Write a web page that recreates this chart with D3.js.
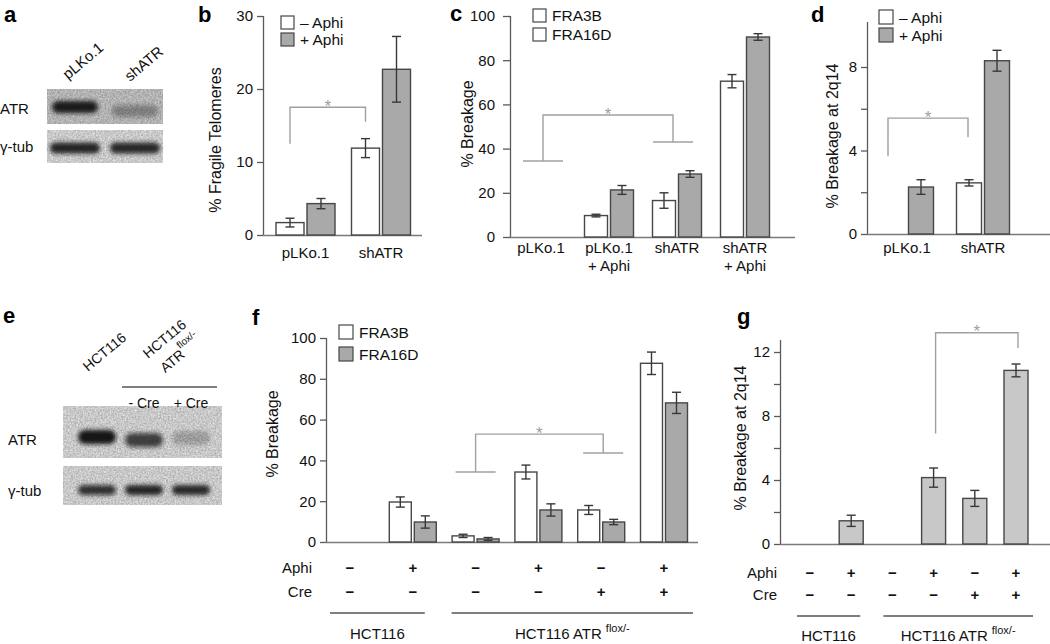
<!DOCTYPE html>
<html><head><meta charset="utf-8">
<script src="https://cdn.jsdelivr.net/npm/d3@7"></script>
<style>
html,body{margin:0;padding:0;background:#fff;}
svg{display:block;}
</style></head><body>
<svg id="fig" width="1050" height="644"></svg>
<script>
// ---------------- DATA ----------------
// a: western blot (band intensities 0..1)
const aLanes = ["pLKo.1", "shATR"];
const aRowLabels = ["ATR", "γ-tub"];
const aATR = [0.97, 0.35];
const aTub = [0.92, 0.9];

// b: % fragile telomeres
const bCategories = ["pLKo.1", "shATR"];
const bSeriesNames = ["– Aphi", "+ Aphi"];
const bMinusAphi = [1.7, 11.9];
const bMinusAphiErr = [0.6, 1.3];
const bPlusAphi = [4.3, 22.7];
const bPlusAphiErr = [0.7, 4.5];
const bTicks = [0, 10, 20, 30];
const bBracket = [12.5, 17.5, 15.5];

// c: % breakage
const cCategories = ["pLKo.1", "pLKo.1\n+ Aphi", "shATR", "shATR\n+ Aphi"];
const cSeriesNames = ["FRA3B", "FRA16D"];
const cFRA3B = [0, 9.7, 16.5, 70.5];
const cFRA3BErr = [0, 0.6, 3.5, 3.0];
const cFRA16D = [0, 21.3, 28.5, 90.5];
const cFRA16DErr = [0, 2.0, 1.5, 1.5];
const cTicks = [0, 20, 40, 60, 80, 100];
const cBracket = [34.4, 55.2, 43.0];

// d: % breakage at 2q14
const dCategories = ["pLKo.1", "shATR"];
const dSeriesNames = ["– Aphi", "+ Aphi"];
const dMinusAphi = [0, 2.45];
const dMinusAphiErr = [0, 0.15];
const dPlusAphi = [2.25, 8.3];
const dPlusAphiErr = [0.35, 0.5];
const dTicks = [0, 2, 4, 6, 8];
const dTickLabels = [0, 4, 8];
const dBracket = [3.73, 5.55, 4.64];

// e: western blot
const eLanes = ["HCT116", "- Cre", "+ Cre"];
const eRowLabels = ["ATR", "γ-tub"];
const eATR = [1.0, 0.75, 0.22];
const eTub = [0.82, 0.92, 0.9];

// f: % breakage, HCT116 lines
const fAphi = ["−", "+", "−", "+", "−", "+"];
const fCre = ["−", "−", "−", "−", "+", "+"];
const fCellLines = ["HCT116", "HCT116 ATR"];
const fCellLineSpans = [[0, 1], [2, 5]];
const fSeriesNames = ["FRA3B", "FRA16D"];
const fFRA3B = [0, 19.6, 3.0, 34.3, 15.7, 87.6];
const fFRA3BErr = [0, 2.5, 0.8, 3.4, 2.2, 5.5];
const fFRA16D = [0, 9.8, 1.5, 15.7, 9.8, 68.2];
const fFRA16DErr = [0, 3.0, 0.7, 3.0, 1.3, 5.2];
const fTicks = [0, 20, 40, 60, 80, 100];
const fBracket = [34.3, 52.9, 43.6];

// g: % breakage at 2q14, HCT116 lines
const gAphi = ["−", "+", "−", "+", "−", "+"];
const gCre = ["−", "−", "−", "−", "+", "+"];
const gCellLines = ["HCT116", "HCT116 ATR"];
const gCellLineSpans = [[0, 1], [2, 5]];
const g2q14 = [0, 1.45, 0, 4.15, 2.85, 10.85];
const g2q14Err = [0, 0.35, 0, 0.6, 0.5, 0.4];
const gTicks = [0, 2, 4, 6, 8, 10, 12];
const gTickLabels = [0, 4, 8, 12];
const gBracket = [6.9, 13.2, 12.25];

// ---------------- DRAWING ----------------
const FONT = "'Liberation Sans', Arial, Helvetica, sans-serif";
const C = {grey:"#a9a9a9", light:"#c8c8c8", white:"#ffffff", stroke:"#474747",
           axis:"#5a5a5a", base:"#7a7a7a", text:"#111111", bracket:"#a0a0a0", err:"#383838"};
const svg = d3.select("#fig").attr("font-family", FONT);
svg.append("rect").attr("width",1050).attr("height",644).attr("fill","#fff");

const defs = svg.append("defs");
const blur = defs.append("filter").attr("id","blur").attr("x","-30%").attr("y","-80%").attr("width","160%").attr("height","260%");
blur.append("feGaussianBlur").attr("stdDeviation", 2.2);
const grain = defs.append("filter").attr("id","grain").attr("x",0).attr("y",0).attr("width",1).attr("height",1);
grain.append("feTurbulence").attr("type","fractalNoise").attr("baseFrequency",0.6).attr("numOctaves",3).attr("seed",4).attr("result","n");
grain.append("feColorMatrix").attr("in","n").attr("type","matrix")
  .attr("values","0 0 0 0 0  0 0 0 0 0  0 0 0 0 0  0 0 0 0.4 -0.05").attr("result","a");
grain.append("feComposite").attr("in","a").attr("in2","SourceGraphic").attr("operator","in");

function letter(t, x, y) {
  svg.append("text").attr("x", x).attr("y", y).attr("font-size", 22).attr("font-weight", "bold")
    .attr("fill", "#000").text(t);
}

function yAxis(y, x0, top, ticks, labels, tickSize, pad) {
  const g = svg.append("g").attr("transform", `translate(${x0},0)`);
  g.call(d3.axisLeft(y).tickValues(ticks).tickSize(tickSize).tickPadding(pad)
    .tickFormat(d => labels.includes(d) ? String(d) : ""));
  g.attr("font-family", FONT).attr("font-size", 15);
  g.select(".domain").remove();
  g.append("line").attr("x1", 0.5).attr("x2", 0.5).attr("y1", y(0)).attr("y2", top)
    .attr("stroke", C.axis).attr("stroke-width", 1.3);
  g.selectAll(".tick line").attr("stroke", C.axis).attr("stroke-width", 1.3);
  g.selectAll(".tick text").attr("fill", C.text);
}

function baseline(y, x0, x1) {
  svg.append("line").attr("x1", x0).attr("x2", x1).attr("y1", y(0) + 0.5).attr("y2", y(0) + 0.5)
    .attr("stroke", C.base).attr("stroke-width", 1.3);
}

function yTitle(t, cx, cy) {
  svg.append("text").attr("transform", `translate(${cx},${cy}) rotate(-90)`)
    .attr("text-anchor", "middle").attr("dominant-baseline", "central")
    .attr("font-size", 16).attr("fill", C.text).text(t);
}

function barOffset(si, n, barW, gap) { return (si - (n - 1) / 2) * (barW + gap); }

function bars(xc, y, cats, series, barW, gap) {
  const n = series.length;
  series.forEach((s, si) => {
    const off = barOffset(si, n, barW, gap);
    const data = cats.map((c, i) => ({c, v: s.values[i], e: s.errs[i]})).filter(d => d.v > 0);
    const g = svg.append("g");
    g.selectAll("rect").data(data).join("rect")
      .attr("x", d => xc(d.c) + off - barW / 2).attr("y", d => y(d.v))
      .attr("width", barW).attr("height", d => y(0) - y(d.v))
      .attr("fill", s.fill).attr("stroke", C.stroke).attr("stroke-width", 1.4);
    const eg = g.selectAll("g.err").data(data.filter(d => d.e > 0)).join("g").attr("class", "err")
      .attr("stroke", C.err).attr("stroke-width", 1.4);
    eg.append("line").attr("x1", d => xc(d.c) + off).attr("x2", d => xc(d.c) + off)
      .attr("y1", d => y(d.v - d.e)).attr("y2", d => y(d.v + d.e));
    [-1, 1].forEach(sg => {
      eg.append("line").attr("x1", d => xc(d.c) + off - 4.5).attr("x2", d => xc(d.c) + off + 4.5)
        .attr("y1", d => y(d.v + sg * d.e)).attr("y2", d => y(d.v + sg * d.e));
    });
  });
}

function legend(x, ys, size, items) {
  items.forEach((it, i) => {
    svg.append("rect").attr("x", x).attr("y", ys[i]).attr("width", size).attr("height", size)
      .attr("fill", it.fill).attr("stroke", C.stroke).attr("stroke-width", 1.2);
    svg.append("text").attr("x", x + size + 6).attr("y", ys[i] + size / 2)
      .attr("dominant-baseline", "central").attr("font-size", 15.5).attr("fill", C.text).text(it.name);
  });
}

function bracket(y, xL, xR, vals, half) {
  const [vl, vt, vr] = vals;
  const g = svg.append("g").attr("stroke", C.bracket).attr("stroke-width", 1.4).attr("fill", "none");
  g.append("path").attr("d", `M${xL},${y(vl)}V${y(vt)}H${xR}V${y(vr)}`);
  if (half) {
    g.append("line").attr("x1", xL - half).attr("x2", xL + half).attr("y1", y(vl)).attr("y2", y(vl));
    g.append("line").attr("x1", xR - half).attr("x2", xR + half).attr("y1", y(vr)).attr("y2", y(vr));
  }
  svg.append("text").attr("x", (xL + xR) / 2).attr("y", y(vt) + 4.5).attr("text-anchor", "middle")
    .attr("font-size", 17).attr("fill", C.bracket).text("*");
}

function catLabels(xc, cats, y0, lh) {
  cats.forEach(c => {
    const t = svg.append("text").attr("text-anchor", "middle").attr("font-size", 15).attr("fill", C.text);
    c.split("\n").forEach((line, i) => {
      t.append("tspan").attr("x", xc(c)).attr("y", y0 + i * lh).text(line);
    });
  });
}

function conditionRows(xc, idx, aphi, cre, labelX, yA, yC, lineY, spans, names, labelY, exts) {
  [["Aphi", yA, aphi], ["Cre", yC, cre]].forEach(([name, yy, arr]) => {
    svg.append("text").attr("x", labelX).attr("y", yy).attr("text-anchor", "end")
      .attr("font-size", 15).attr("fill", C.text).text(name);
    svg.append("g").selectAll("text").data(idx).join("text")
      .attr("x", i => xc(i)).attr("y", yy).attr("text-anchor", "middle")
      .attr("font-size", 15).attr("font-weight", "bold").attr("fill", C.text).text(i => arr[i]);
  });
  spans.forEach(([a, b], k) => {
    const x0 = xc(a) - exts[k][0], x1 = xc(b) + exts[k][1];
    svg.append("line").attr("x1", x0).attr("x2", x1).attr("y1", lineY).attr("y2", lineY)
      .attr("stroke", "#555").attr("stroke-width", 1.3);
    const t = svg.append("text").attr("x", (x0 + x1) / 2).attr("y", labelY).attr("text-anchor", "middle")
      .attr("font-size", 15).attr("fill", C.text).text(names[k]);
    if (k === 1) t.append("tspan").attr("dx", 4).attr("dy", -7).attr("font-size", 11).text("flox/-");
  });
}

function blot(xl, lanes, x0, x1, rows) {
  rows.forEach(r => {
    svg.append("rect").attr("x", x0).attr("y", r.y0).attr("width", x1 - x0).attr("height", r.y1 - r.y0).attr("fill", r.bg);
    svg.append("rect").attr("x", x0).attr("y", r.y0).attr("width", x1 - x0).attr("height", r.y1 - r.y0)
      .attr("fill", "#fff").attr("filter", "url(#grain)");
    svg.append("g").attr("filter", "url(#blur)").selectAll("rect").data(lanes).join("rect")
      .attr("x", d => xl(d) - r.w / 2).attr("y", (d, i) => r.cy[i] - r.h / 2)
      .attr("width", r.w).attr("height", r.h).attr("rx", r.h / 2)
      .attr("fill", "#141414").attr("opacity", (d, i) => r.vals[i]);
    svg.append("text").attr("x", r.lx).attr("y", r.ly).attr("font-size", 15).attr("fill", C.text).text(r.label);
  });
}

// ---------- Panel a ----------
letter("a", 4, 22);
{
  const xl = d3.scalePoint().domain(aLanes).range([75, 135]);
  blot(xl, aLanes, 47, 163, [
    {y0: 89, y1: 124, bg: "#d2d2d2", w: 46, h: 12, cy: [107, 111], vals: aATR, label: aRowLabels[0], lx: 0, ly: 114},
    {y0: 130, y1: 163, bg: "#ececec", w: 50, h: 11, cy: [148, 148], vals: aTub, label: aRowLabels[1], lx: 0, ly: 152}
  ]);
  aLanes.forEach((l, i) => {
    svg.append("text").attr("transform", `translate(${xl(l) - 5 + (i ? 0 : -2)},${i ? 82 : 80}) rotate(-40)`)
      .attr("font-size", 15).attr("fill", C.text).text(l);
  });
}

// ---------- Panel b ----------
letter("b", 198, 22);
{
  const y = d3.scaleLinear().domain([0, 30]).range([235, 16]);
  const xc = d3.scalePoint().domain(bCategories).range([305.5, 381]);
  yAxis(y, 263, 16, bTicks, bTicks, 6, 4);
  baseline(y, 263, 422);
  yTitle("% Fragile Telomeres", 215, 140);
  bars(xc, y, bCategories, [
    {values: bMinusAphi, errs: bMinusAphiErr, fill: C.white},
    {values: bPlusAphi, errs: bPlusAphiErr, fill: C.grey}], 28, 3);
  const off = barOffset(0, 2, 28, 3);
  bracket(y, xc(bCategories[0]) + off, xc(bCategories[1]) + off, bBracket, 0);
  legend(281, [16, 33], 13, [{name: bSeriesNames[0], fill: C.white}, {name: bSeriesNames[1], fill: C.grey}]);
  catLabels(xc, bCategories, 258, 18);
}

// ---------- Panel c ----------
letter("c", 450, 21);
{
  const y = d3.scaleLinear().domain([0, 100]).range([237, 16]);
  const xc = d3.scalePoint().domain(cCategories).range([541, 745]);
  yAxis(y, 510, 16, cTicks, cTicks, 7, 8);
  baseline(y, 510, 795);
  yTitle("% Breakage", 467, 124);
  bars(xc, y, cCategories, [
    {values: cFRA3B, errs: cFRA3BErr, fill: C.white},
    {values: cFRA16D, errs: cFRA16DErr, fill: C.grey}], 23, 3);
  bracket(y, xc(cCategories[0]) + 2, xc(cCategories[2]) - 4, cBracket, 20);
  legend(533, [9, 28], 13, [{name: cSeriesNames[0], fill: C.white}, {name: cSeriesNames[1], fill: C.white}]);
  catLabels(xc, cCategories, 253, 18);
}

// ---------- Panel d ----------
letter("d", 811, 22);
{
  const y = d3.scaleLinear().domain([0, 8]).range([234, 67]);
  const xc = d3.scalePoint().domain(dCategories).range([907, 983]);
  yAxis(y, 867, 22, dTicks, dTickLabels, 6, 4);
  baseline(y, 867, 1050);
  yTitle("% Breakage at 2q14", 832, 136);
  bars(xc, y, dCategories, [
    {values: dMinusAphi, errs: dMinusAphiErr, fill: C.white},
    {values: dPlusAphi, errs: dPlusAphiErr, fill: C.grey}], 25, 3);
  const off = barOffset(0, 2, 25, 3);
  bracket(y, xc(dCategories[0]) + off - 5, xc(dCategories[1]) + off - 1, dBracket, 0);
  legend(879, [10, 28], 14, [{name: dSeriesNames[0], fill: C.white}, {name: dSeriesNames[1], fill: C.grey}]);
  catLabels(xc, dCategories, 253, 18);
}

// ---------- Panel e ----------
letter("e", 3, 323);
{
  const xl = d3.scalePoint().domain(eLanes).range([97, 191]);
  blot(xl, eLanes, 63, 222, [
    {y0: 406, y1: 458, bg: "#ebebeb", w: 38, h: 14, cy: [437, 440, 438], vals: eATR, label: eRowLabels[0], lx: 8, ly: 445},
    {y0: 466, y1: 505, bg: "#ebebeb", w: 38, h: 10, cy: [490, 490, 490], vals: eTub, label: eRowLabels[1], lx: 8, ly: 496}
  ]);
  svg.append("text").attr("transform", "translate(88,372) rotate(-40)").attr("font-size", 14).attr("fill", C.text).text(eLanes[0]);
  const g2 = svg.append("g").attr("transform", "translate(148,359) rotate(-40)");
  g2.append("text").attr("x", 0).attr("y", 0).attr("font-size", 14).attr("fill", C.text).text("HCT116");
  g2.append("text").attr("x", 4).attr("y", 22).attr("font-size", 14).attr("fill", C.text).text("ATR");
  g2.append("text").attr("x", 31).attr("y", 13).attr("font-size", 10).attr("fill", C.text).text("flox/-");
  svg.append("line").attr("x1", 122).attr("x2", 217).attr("y1", 387).attr("y2", 387).attr("stroke", "#555").attr("stroke-width", 1.3);
  [eLanes[1], eLanes[2]].forEach(l => {
    svg.append("text").attr("x", xl(l)).attr("y", 408).attr("text-anchor", "middle").attr("font-size", 14).attr("fill", C.text).text(l);
  });
}

// ---------- Panel f ----------
letter("f", 252, 325);
{
  const idx = d3.range(fAphi.length);
  const y = d3.scaleLinear().domain([0, 100]).range([542, 338]);
  const xc = d3.scalePoint().domain(idx).range([350, 664]);
  yAxis(y, 326, 338, fTicks, fTicks, 6, 4);
  baseline(y, 326, 698);
  yTitle("% Breakage", 272, 434);
  bars(xc, y, idx, [
    {values: fFRA3B, errs: fFRA3BErr, fill: C.white},
    {values: fFRA16D, errs: fFRA16DErr, fill: C.grey}], 22, 3);
  bracket(y, xc(2), xc(4) + 2, fBracket, 20);
  legend(339, [325, 347], 14, [{name: fSeriesNames[0], fill: C.white}, {name: fSeriesNames[1], fill: C.grey}]);
  conditionRows(xc, idx, fAphi, fCre, 312, 573, 597, 613, fCellLineSpans, fCellLines, 639, [[20, 12], [24, 29]]);
}

// ---------- Panel g ----------
letter("g", 737, 324);
{
  const idx = d3.range(gAphi.length);
  const y = d3.scaleLinear().domain([0, 12]).range([544, 352]);
  const xc = d3.scalePoint().domain(idx).range([810, 1016]);
  yAxis(y, 780, 340, gTicks, gTickLabels, 6, 4);
  baseline(y, 780, 1050);
  yTitle("% Breakage at 2q14", 740, 438);
  bars(xc, y, idx, [{values: g2q14, errs: g2q14Err, fill: C.light}], 24, 0);
  bracket(y, xc(3) + 2, xc(5) + 2, gBracket, 0);
  conditionRows(xc, idx, gAphi, gCre, 777, 578, 600, 616, gCellLineSpans, gCellLines, 641, [[13, 9], [9, 17]]);
}
</script>
</body></html>
